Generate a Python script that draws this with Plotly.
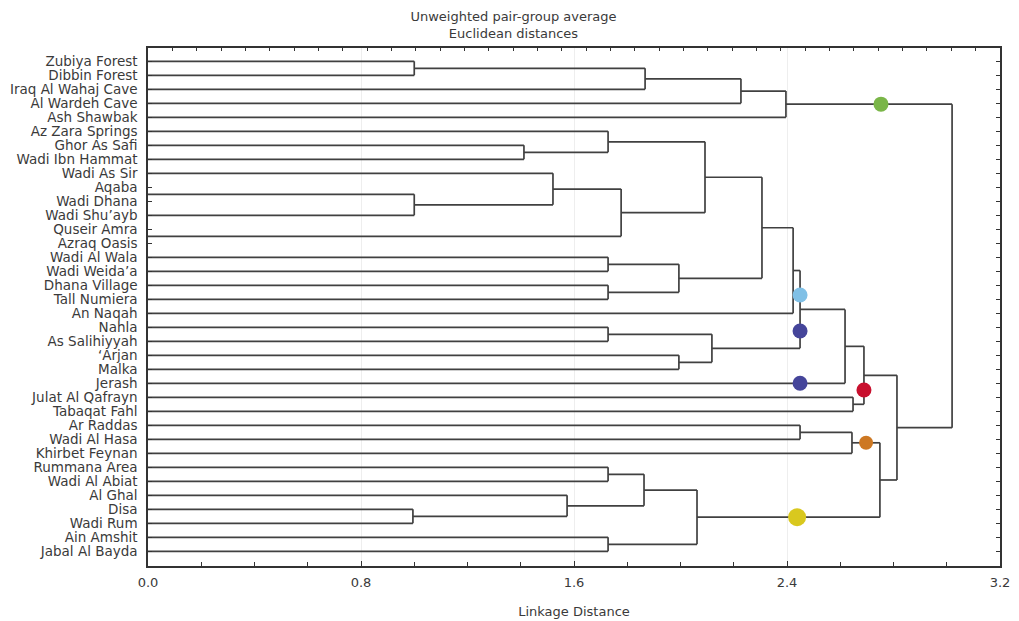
import plotly.graph_objects as go

# ---------------- data ----------------
labels = ["Zubiya Forest", "Dibbin Forest", "Iraq Al Wahaj Cave", "Al Wardeh Cave", "Ash Shawbak",
          "Az Zara Springs", "Ghor As Safi", "Wadi Ibn Hammat", "Wadi As Sir", "Aqaba", "Wadi Dhana",
          "Wadi Shu’ayb", "Quseir Amra", "Azraq Oasis", "Wadi Al Wala", "Wadi Weida’a", "Dhana Village",
          "Tall Numiera", "An Naqah", "Nahla", "As Salihiyyah", "‘Arjan", "Malka", "Jerash",
          "Julat Al Qafrayn", "Tabaqat Fahl", "Ar Raddas", "Wadi Al Hasa", "Khirbet Feynan",
          "Rummana Area", "Wadi Al Abiat", "Al Ghal", "Disa", "Wadi Rum", "Ain Amshit", "Jabal Al Bayda"]

# labels that carry no branch line in the original figure
unlinked = ["Aqaba", "Azraq Oasis"]

# merges (UPGMA): left member, right member, linkage distance
merge_left = ["Zubiya Forest", "c1", "c2", "c3",
              "Ghor As Safi", "Az Zara Springs", "Wadi Dhana", "Wadi As Sir", "c8", "c6",
              "Wadi Al Wala", "Dhana Village", "c11", "c10", "c14",
              "Nahla", "‘Arjan", "c16", "c15", "c19", "Julat Al Qafrayn", "c20",
              "Ar Raddas", "c23", "Rummana Area", "Disa", "Al Ghal", "c25", "Ain Amshit", "c28",
              "c24", "c22", "c4"]
merge_right = ["Dibbin Forest", "Iraq Al Wahaj Cave", "Al Wardeh Cave", "Ash Shawbak",
               "Wadi Ibn Hammat", "c5", "Wadi Shu’ayb", "c7", "Quseir Amra", "c9",
               "Wadi Weida’a", "Tall Numiera", "c12", "c13", "An Naqah",
               "As Salihiyyah", "Malka", "c17", "c18", "Jerash", "Tabaqat Fahl", "c21",
               "Wadi Al Hasa", "Khirbet Feynan", "Wadi Al Abiat", "Wadi Rum", "c26", "c27", "Jabal Al Bayda", "c29",
               "c30", "c31", "c32"]
merge_height = [1.00, 1.867, 2.227, 2.396,
                1.412, 1.728, 1.00, 1.521, 1.777, 2.092,
                1.728, 1.728, 1.994, 2.306, 2.423,
                1.728, 1.994, 2.118, 2.449, 2.618, 2.648, 2.689,
                2.449, 2.644, 1.728, 0.995, 1.574, 1.863, 1.728, 2.062,
                2.749, 2.813, 3.02]

# coloured group markers: linkage distance, row (label-index units)
marker_dist = [2.753, 2.449, 2.449, 2.449, 2.689, 2.697, 2.438]
marker_row = [3.06, 16.69, 19.26, 23.0, 23.48, 27.25, 32.56]
marker_color = ["#7ab648", "#80c0e6", "#45459a", "#45459a", "#c8102e", "#cd7823", "#d9c81e"]
marker_size = [15, 15, 15, 15, 15, 14, 18]

# ---------------- leaf positions ----------------
idx = {n: i for i, n in enumerate(labels)}
ypos = {}
un_idx = [idx[n] for n in unlinked]
lo, hi = min(un_idx) - 1, max(un_idx) + 1
inner = [n for n in labels[lo + 1:hi] if n not in unlinked]
for n in labels:
    if n in unlinked:
        continue
    ypos[n] = float(idx[n])
for k, n in enumerate(inner, start=1):
    ypos[n] = lo + (hi - lo) * k / (len(inner) + 1)
height = {n: 0.0 for n in ypos}

# ---------------- tree segments ----------------
xs, ys = [], []
for i, (a, b, h) in enumerate(zip(merge_left, merge_right, merge_height), start=1):
    name = f"c{i}"
    for c in (a, b):
        xs += [height[c], h, None]
        ys += [ypos[c], ypos[c], None]
    xs += [h, h, None]
    ys += [ypos[a], ypos[b], None]
    ypos[name] = (ypos[a] + ypos[b]) / 2
    height[name] = h

fig = go.Figure()
fig.add_trace(go.Scatter(x=xs, y=ys, mode="lines",
                         line=dict(color="#404040", width=1.7),
                         hoverinfo="skip", showlegend=False))
fig.add_trace(go.Scatter(x=marker_dist, y=marker_row, mode="markers",
                         marker=dict(color=marker_color, size=marker_size, opacity=1,
                                     line=dict(width=0)),
                         showlegend=False))
fig.add_trace(go.Scatter(x=[], y=[], xaxis="x2", showlegend=False))

font = dict(family="DejaVu Sans", size=13, color="#3a3a3a")
fig.update_layout(
    width=1011, height=613,
    margin=dict(l=140, r=19, t=40, b=55, autoexpand=False),
    paper_bgcolor="white", plot_bgcolor="white",
    font=font,
    title=dict(text="Unweighted pair-group average<br>Euclidean distances",
               x=0.5, xanchor="center", y=0.979, yanchor="top",
               font=dict(family="DejaVu Sans", size=13, color="#3a3a3a")),
    xaxis=dict(range=[0, 3.2], tickvals=[0, 0.8, 1.6, 2.4, 3.2],
               ticktext=["0.0", "0.8", "1.6", "2.4", "3.2"],
               ticks="inside", ticklen=5, tickcolor="#333",
               minor=dict(dtick=0.2, ticks="inside", ticklen=4, tickcolor="#333"),
               showline=True, linecolor="#333", linewidth=1.5, mirror=True,
               showgrid=True, gridcolor="#eeeeee", gridwidth=1, zeroline=False,
               ticklabelstandoff=4, automargin=False,
               title=dict(text="Linkage Distance", standoff=18, font=font)),
    xaxis2=dict(overlaying="x", side="top", range=[0, 35], dtick=1,
                ticks="inside", ticklen=3, tickcolor="#333", automargin=False,
                showticklabels=False, showgrid=False, showline=False, zeroline=False),
    yaxis=dict(range=[36.05, -0.95], tickvals=list(range(len(labels))), ticktext=labels,
               ticks="inside", ticklen=4, tickcolor="#333", automargin=False,
               tickfont=dict(family="DejaVu Sans", size=13.5, color="#3a3a3a"),
               showline=True, linecolor="#333", linewidth=1.5, mirror="ticks",
               showgrid=False, zeroline=False, ticklabelstandoff=6),
)

fig.write_html("out.html")
